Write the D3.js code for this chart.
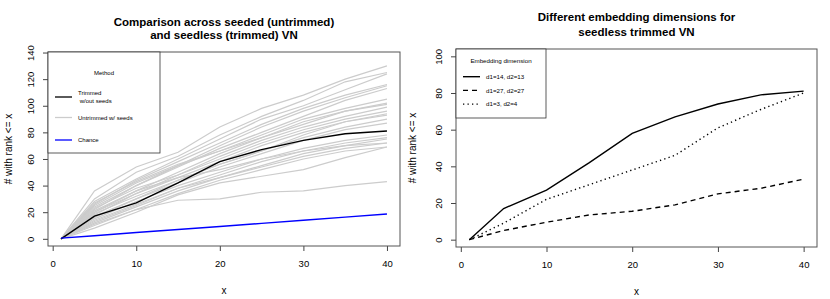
<!DOCTYPE html>
<html>
<head>
<meta charset="utf-8">
<script src="https://d3js.org/d3.v7.min.js"></script>
<style>
body { margin: 0; background: #fff; }
text { font-family: "Liberation Sans", Arial, Helvetica, sans-serif; fill: #000; }
</style>
</head>
<body>
<div id="chart"></div>
<script>
// ranks shown on the x axis
var xValues = [1, 5, 10, 15, 20, 25, 30, 35, 40];

// left panel
var trimmed = [0, 17, 27, 42, 58, 67, 74, 79, 81];
var chance = [0.5, 2.3, 4.7, 7, 9.3, 11.6, 14, 16.3, 18.6];
var untrimmed = [
  [0, 36, 54, 65, 84, 98, 108, 120, 130],
  [0, 30, 50, 62, 78, 92, 104, 118, 125],
  [0, 28, 45, 60, 75, 90, 100, 112, 124],
  [0, 26, 44, 58, 72, 86, 98, 108, 116],
  [0, 25, 42, 55, 70, 84, 96, 106, 115],
  [0, 24, 40, 54, 68, 80, 92, 104, 113],
  [0, 22, 40, 55, 66, 78, 90, 98, 105],
  [0, 27, 43, 56, 66, 76, 86, 96, 102],
  [0, 20, 36, 50, 64, 76, 88, 96, 101],
  [0, 23, 38, 48, 62, 74, 84, 92, 99],
  [0, 18, 34, 48, 60, 72, 82, 90, 96],
  [0, 17, 30, 44, 56, 66, 78, 88, 94],
  [0, 21, 36, 46, 58, 70, 80, 88, 93],
  [0, 19, 32, 44, 56, 66, 76, 84, 90],
  [0, 16, 30, 42, 54, 64, 74, 82, 87],
  [0, 15, 28, 40, 50, 60, 68, 74, 78],
  [0, 14, 26, 38, 48, 58, 66, 72, 76],
  [0, 13, 25, 38, 46, 55, 64, 70, 75],
  [0, 20, 34, 46, 52, 60, 66, 70, 72],
  [0, 12, 24, 36, 46, 54, 62, 68, 72],
  [0, 10, 22, 34, 44, 52, 60, 66, 69],
  [0, 8, 20, 33, 42, 47, 52, 61, 69],
  [0, 11, 22, 29, 30, 35, 36, 40, 43]
];

// right panel
var dim14 = [0, 17, 27, 42, 58, 67, 74, 79, 81];
var dim27 = [0, 5, 9.5, 13.5, 15.5, 19, 25, 28, 33];
var dim3 = [0, 9, 22, 30, 38, 46, 61, 71, 80];

var xTicks = [0, 10, 20, 30, 40];
var leftYTicks = [0, 20, 40, 60, 80, 100, 120, 140];
var rightYTicks = [0, 20, 40, 60, 80, 100];

var svgWidth = 830;
var svgHeight = 299;

var svg = d3.select("#chart")
  .append("svg")
  .attr("width", svgWidth)
  .attr("height", svgHeight);

function toPoints(ys) {
  return ys.map((y, i) => [xValues[i], y]);
}

function drawFrame(p) {
  var g = svg.append("g");

  g.append("g")
    .attr("transform", `translate(0, ${p.bottom})`)
    .call(d3.axisBottom(p.x).tickValues(xTicks).tickSize(5).tickSizeOuter(0).tickPadding(9))
    .call(a => a.select(".domain").remove())
    .call(a => a.selectAll("text").attr("font-size", 9.5).attr("font-family", null));

  g.append("g")
    .attr("transform", `translate(${p.left}, 0)`)
    .call(d3.axisLeft(p.y).tickValues(p.yTicks).tickSize(5).tickSizeOuter(0))
    .call(a => a.select(".domain").remove())
    .call(a => a.selectAll("text")
      .attr("font-size", 9.5)
      .attr("font-family", null)
      .attr("x", 0)
      .attr("dy", 0)
      .attr("text-anchor", "middle")
      .attr("transform", "translate(-14, 0) rotate(-90)"));

  g.selectAll(".tick line").attr("stroke", "#444");

  g.append("rect")
    .attr("x", p.left)
    .attr("y", p.top)
    .attr("width", p.right - p.left)
    .attr("height", p.bottom - p.top)
    .attr("fill", "none")
    .attr("stroke", "#555")
    .attr("stroke-width", 1);

  g.append("text")
    .attr("x", (p.left + p.right) / 2)
    .attr("y", p.bottom + 48)
    .attr("text-anchor", "middle")
    .attr("font-size", 10)
    .text("x");

  g.append("text")
    .attr("transform", `translate(${p.ylabX}, ${(p.top + p.bottom) / 2}) rotate(-90)`)
    .attr("text-anchor", "middle")
    .attr("dy", "0.35em")
    .attr("font-size", 10)
    .text("# with rank <= x");

  p.title.forEach(function(t, i) {
    g.append("text")
      .attr("x", (p.left + p.right) / 2)
      .attr("y", p.titleY[i])
      .attr("dy", "0.36em")
      .attr("text-anchor", "middle")
      .attr("font-size", 11.5)
      .attr("font-weight", "bold")
      .text(t);
  });
  return g;
}

// ---------- left panel ----------
var L = {
  left: 48, right: 400, top: 52, bottom: 246,
  yTicks: leftYTicks, ylabX: 8,
  title: ["Comparison across seeded (untrimmed)", "and seedless (trimmed) VN"],
  titleY: [21.5, 35]
};
L.x = d3.scaleLinear().domain([-0.56, 41.56]).range([L.left, L.right]);
L.y = d3.scaleLinear().domain([-5.4, 140.4]).range([L.bottom, L.top]);

var leftG = drawFrame(L);
var leftLine = d3.line().x(d => L.x(d[0])).y(d => L.y(d[1]));

leftG.selectAll(".gray")
  .data(untrimmed)
  .enter()
  .append("path")
  .attr("d", d => leftLine(toPoints(d)))
  .attr("fill", "none")
  .attr("stroke", "#cccccc")
  .attr("stroke-width", 1.2);

leftG.append("path")
  .attr("d", leftLine(toPoints(trimmed)))
  .attr("fill", "none")
  .attr("stroke", "#000")
  .attr("stroke-width", 1.4);

leftG.append("path")
  .attr("d", leftLine(toPoints(chance)))
  .attr("fill", "none")
  .attr("stroke", "#0000ff")
  .attr("stroke-width", 1.4);

// legend
var legL = leftG.append("g");
legL.append("rect")
  .attr("x", 48).attr("y", 52)
  .attr("width", 112).attr("height", 101)
  .attr("fill", "#fff")
  .attr("stroke", "#333")
  .attr("stroke-width", 0.8);
legL.append("text")
  .attr("x", 104).attr("y", 73).attr("dy", "0.35em")
  .attr("text-anchor", "middle").attr("font-size", 6)
  .text("Method");

var leftLegend = [
  {label: ["Trimmed", " w/out seeds"], color: "#000", y: 97},
  {label: ["Untrimmed w/ seeds"], color: "#cccccc", y: 117.5},
  {label: ["Chance"], color: "#0000ff", y: 140}
];
leftLegend.forEach(function(item) {
  legL.append("line")
    .attr("x1", 55).attr("x2", 72)
    .attr("y1", item.y).attr("y2", item.y)
    .attr("stroke", item.color)
    .attr("stroke-width", 1.3);
  item.label.forEach(function(t, i) {
    legL.append("text")
      .attr("x", 78)
      .attr("y", item.y + (i - (item.label.length - 1) / 2) * 7.5)
      .attr("dy", "0.35em")
      .attr("font-size", 6)
      .attr("xml:space", "preserve")
      .text(t);
  });
});

// ---------- right panel ----------
var R = {
  left: 456, right: 817, top: 49, bottom: 247,
  yTicks: rightYTicks, ylabX: 412,
  title: ["Different embedding dimensions for", "seedless trimmed VN"],
  titleY: [16.5, 31.5]
};
R.x = d3.scaleLinear().domain([-0.56, 41.56]).range([R.left, R.right]);
R.y = d3.scaleLinear().domain([-4, 104]).range([R.bottom, R.top]);

var rightG = drawFrame(R);
var rightLine = d3.line().x(d => R.x(d[0])).y(d => R.y(d[1]));

var dimSeries = [
  {values: dim14, dash: null, label: "d1=14, d2=13"},
  {values: dim27, dash: "5,4", label: "d1=27, d2=27"},
  {values: dim3, dash: "1.3,3.2", label: "d1=3, d2=4"}
];

dimSeries.forEach(function(s) {
  rightG.append("path")
    .attr("d", rightLine(toPoints(s.values)))
    .attr("fill", "none")
    .attr("stroke", "#000")
    .attr("stroke-width", 1.4)
    .attr("stroke-dasharray", s.dash);
});

var legR = rightG.append("g");
legR.append("rect")
  .attr("x", 456).attr("y", 49)
  .attr("width", 90).attr("height", 69)
  .attr("fill", "#fff")
  .attr("stroke", "#333")
  .attr("stroke-width", 0.8);
legR.append("text")
  .attr("x", 501).attr("y", 61).attr("dy", "0.35em")
  .attr("text-anchor", "middle").attr("font-size", 6.2)
  .text("Embedding dimension");

dimSeries.forEach(function(s, i) {
  var y = 76.7 + i * 13.7;
  legR.append("line")
    .attr("x1", 463).attr("x2", 480)
    .attr("y1", y).attr("y2", y)
    .attr("stroke", "#000")
    .attr("stroke-width", 1.4)
    .attr("stroke-dasharray", s.dash);
  legR.append("text")
    .attr("x", 486).attr("y", y).attr("dy", "0.35em")
    .attr("font-size", 6.2)
    .text(s.label);
});
</script>
</body>
</html>
